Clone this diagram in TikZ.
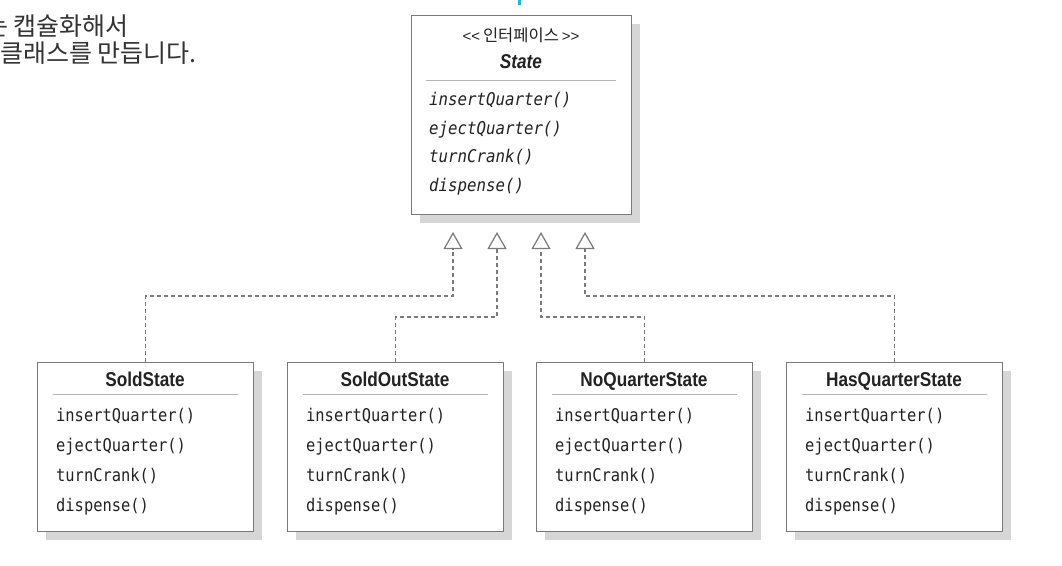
\documentclass[tikz,border=0pt]{standalone}
\usepackage{fontspec}
\setmainfont{Liberation Sans}
\newfontfamily\condfont{Liberation Sans}[FakeStretch=0.86]
\newfontfamily\krfont{Noto Sans CJK KR}
\newfontfamily\monofont{DejaVu Sans Mono}[FakeStretch=0.88]
\newfontfamily\imonofont{DejaVu Sans Mono}[FakeStretch=0.9]
\usetikzlibrary{arrows.meta,shadows}
\definecolor{boxline}{HTML}{7A7A7A}
\definecolor{shadowc}{HTML}{D6D6D6}
\definecolor{sepc}{HTML}{B4B4B4}
\definecolor{textc}{HTML}{222222}
\definecolor{ktextc}{HTML}{333333}
\definecolor{cyanmark}{HTML}{2BB5C8}
\tikzset{
  classbox/.style={draw=boxline, line width=1.3pt, fill=white, inner sep=0pt,
    minimum width=216pt, minimum height=169pt, anchor=north west,
    drop shadow={shadow xshift=8pt, shadow yshift=-8pt, fill=shadowc, opacity=1}},
  titletext/.style={inner sep=0pt, anchor=base, text=textc, font=\condfont\fontsize{20}{22}\selectfont\bfseries},
  methtext/.style={inner sep=0pt, anchor=base west, text=textc, font=\monofont\fontsize{17.5}{20}\selectfont},
  imethtext/.style={inner sep=0pt, anchor=base west, text=textc, font=\imonofont\itshape\fontsize{17.5}{20}\selectfont},
  sepline/.style={draw=sepc, line width=0.9pt},
  dep/.style={draw=boxline, line width=1.2pt, dash pattern=on 4pt off 3pt,
    -{Triangle[open, length=17pt, width=19pt]}},
  ktext/.style={inner sep=0pt, anchor=base east, text=ktextc, font=\krfont\fontsize{25}{28}\selectfont}
}
\begin{document}
\begin{tikzpicture}[x=1pt,y=-1pt]
\useasboundingbox[fill=white] (0,0) rectangle (1062,565);

% left text (cut by the page edge, as in the source)
\begin{scope}
\clip (0,0) rectangle (1062,565);
\node[ktext] (k1) at (129,35) {는 캡슐화해서};
\node[ktext] (k2) at (197,62) {클래스를 만듭니다.};
\end{scope}

% small cyan mark at top
\fill[cyanmark] (517.5,0) rectangle (520.5,5);

% interface State
\node[classbox, minimum width=220pt, minimum height=199pt] (state) at (411,15) {};
\node[inner sep=0pt, text=textc] (st1) at (521,35) {\fontsize{15}{17}\selectfont <{}<\hspace{3pt}{\krfont\fontsize{16.5}{18}\selectfont 인터페이스}\hspace{3pt}>{}>};
\node[titletext] (st2) at (521,68) {\itshape State};
\draw[sepline] (426,80) -- (616,80);
\node[imethtext] (sm1) at (429,105.5) {insertQuarter()};
\node[imethtext] (sm2) at (429,134) {ejectQuarter()};
\node[imethtext] (sm3) at (429,162.5) {turnCrank()};
\node[imethtext] (sm4) at (429,191) {dispense()};

% concrete states
\foreach \nm/\x/\ttl in {sold/37/SoldState, soldout/287/SoldOutState, noq/536/NoQuarterState, hasq/786/HasQuarterState}{
  \node[classbox] (\nm) at (\x,362) {};
  \node[titletext] (\nm-t) at (\x+108,386) {\ttl};
  \draw[sepline] (\x+16,394) -- (\x+201,394);
  \node[methtext] (\nm-m1) at (\x+19,421.5) {insertQuarter()};
  \node[methtext] (\nm-m2) at (\x+19,451.5) {ejectQuarter()};
  \node[methtext] (\nm-m3) at (\x+19,481.5) {turnCrank()};
  \node[methtext] (\nm-m4) at (\x+19,511.5) {dispense()};
}

% arrow tips and junctions
\coordinate (tip1) at (453,232);
\coordinate (tip2) at (497,232);
\coordinate (tip3) at (541,232);
\coordinate (tip4) at (585,232);
\coordinate (j1) at (453,296);
\coordinate (j2) at (497,317);
\coordinate (j3) at (541,317);
\coordinate (j4) at (585,296);

\draw[dep] (sold.north) |- (j1) -- (tip1);
\draw[dep] (soldout.north) |- (j2) -- (tip2);
\draw[dep] (noq.north) |- (j3) -- (tip3);
\draw[dep] (hasq.north) |- (j4) -- (tip4);
\end{tikzpicture}
\end{document}
